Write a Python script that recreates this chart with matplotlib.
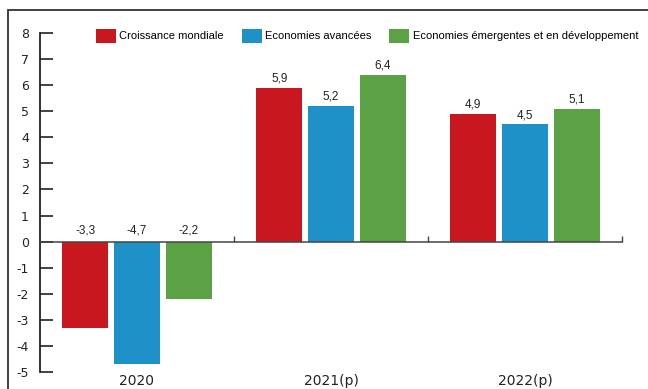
import matplotlib
matplotlib.use("Agg")
import numpy as np
import matplotlib.pyplot as plt
from matplotlib import font_manager
from matplotlib.patches import Rectangle
from matplotlib.transforms import blended_transform_factory

plt.rcParams["axes.unicode_minus"] = False

# data
years = ["2020", "2021(p)", "2022(p)"]
series = ["Croissance mondiale", "Economies avancées",
          "Economies émergentes et en développement"]
croissance = [-3.3, 5.9, 4.9]
avancees = [-4.7, 5.2, 4.5]
emergentes = [-2.2, 6.4, 5.1]
colors = ["#c8171e", "#1e92c8", "#5ba245"]

names = [f.name for f in font_manager.fontManager.ttflist]
narrow = "Liberation Sans Narrow" if "Liberation Sans Narrow" in names else "Liberation Sans"

fig = plt.figure(figsize=(6.48, 3.89), dpi=100)
W, H = 648, 389
ax = fig.add_axes([40 / W, 1 - 372 / H, (622 - 40) / W, (372 - 33) / H])

# outer frame
fig.patches.append(Rectangle((8 / W, -0.1), 1.2, 1 - 10 / H + 0.1,
                             transform=fig.transFigure, fill=False,
                             edgecolor="#333333", lw=1.3))

x = np.arange(len(years))
w = 0.236
step = 0.267
all_vals = [croissance, avancees, emergentes]
bars = []
for i, (vals, c, lab) in enumerate(zip(all_vals, colors, series)):
    pos = x + (i - 1) * step
    b = ax.bar(pos, vals, width=w, color=c, label=lab, zorder=2)
    bars.append(b)
    for p, v in zip(pos, vals):
        y = v + 0.12 if v > 0 else 0.2
        ax.text(p, y, f"{v:.1f}".replace(".", ","), ha="center", va="bottom",
                fontsize=8.5, family=narrow, color="#222222")

ax.set_xlim(-0.5, 2.5)
ax.set_ylim(-5, 8)
ax.set_yticks(range(-5, 9))
ax.tick_params(axis="y", direction="in", length=9.5, width=1.2, pad=8,
               labelsize=9, colors="#222222")

for s in ["top", "right"]:
    ax.spines[s].set_visible(False)
ax.spines["left"].set_linewidth(1.3)
ax.spines["left"].set_color("#222222")
ax.spines["bottom"].set_position(("data", 0))
ax.spines["bottom"].set_color("#444444")
ax.spines["bottom"].set_linewidth(1.1)
ax.spines["bottom"].set_zorder(3)
ax.set_xticks([0.5, 1.5, 2.5])
ax.set_xticklabels([])
ax.tick_params(axis="x", direction="in", length=4, width=1, colors="#444444")

tr = blended_transform_factory(ax.transData, ax.transAxes)
for xi, yr in zip(x, years):
    ax.text(xi, -0.005, yr, transform=tr, ha="center", va="top",
            fontsize=10, color="#222222")

fig.legend(handles=bars, labels=series, loc="upper left",
           bbox_to_anchor=(96 / W, 1 - 29 / H), ncol=3, frameon=False,
           prop={"family": narrow, "size": 8}, handlelength=1.8,
           handleheight=1.5, handletextpad=0.3, columnspacing=1.6,
           borderaxespad=0, borderpad=0)

fig.savefig("out.png", dpi=100, facecolor="white")
